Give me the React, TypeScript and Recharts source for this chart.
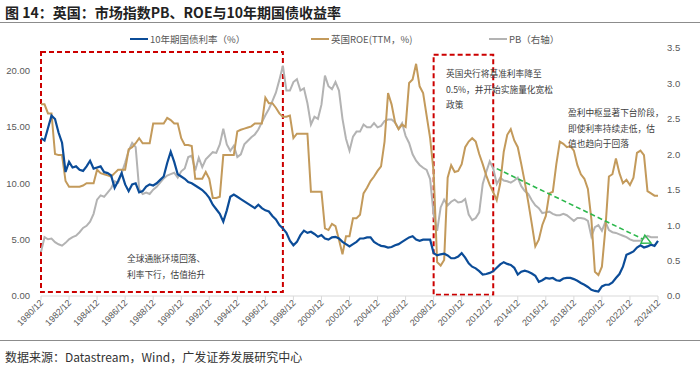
import React from "react";
import { LineChart, Line, XAxis, YAxis, ReferenceArea, ReferenceLine } from "recharts";

// quarterly, 1980/12 .. 2024/12
const months = ["03", "06", "09", "12"];
const dates: string[] = ["1980/12"];
for (let y = 1981; y <= 2024; y++) for (const m of months) dates.push(`${y}/${m}`);

// 10年期国债利率（%）
const yield10y = [
  14.0, 13.8, 14.9, 16.0, 15.7, 14.5, 13.6, 11.0,
  11.9, 11.4, 11.5, 11.2, 11.1, 11.5, 12.0, 11.3,
  11.4, 11.5, 11.0, 10.9, 10.7, 9.6, 10.2, 10.9,
  9.9, 9.3, 9.9, 10.0, 9.2, 9.3, 9.7, 9.9,
  9.8, 10.0, 10.3, 10.6, 11.8, 12.8, 11.9, 10.8,
  10.6, 10.4, 10.1, 10.0, 9.8, 9.6, 9.4, 9.1,
  8.7, 8.1, 7.7, 7.3, 6.6, 7.6, 8.8, 9.0,
  8.8, 8.6, 8.4, 8.2, 8.0, 7.8, 8.1, 7.8,
  7.6, 7.5, 7.1, 6.8, 6.3, 6.0, 5.6, 4.9,
  4.5, 4.8, 5.4, 5.8, 5.6, 5.7, 5.5, 5.25,
  5.4, 5.1, 5.0, 5.2, 5.25, 5.1, 4.8, 4.6,
  4.4, 4.6, 4.8, 5.1, 5.1, 5.2, 5.2, 4.8,
  4.6, 4.45, 4.4, 4.3, 4.35, 4.5, 4.6, 4.8,
  5.0, 5.2, 5.3, 5.0, 4.9, 5.0, 5.0, 5.0,
  3.8, 3.6, 3.7, 3.75, 3.6, 3.35, 3.35, 3.5,
  3.8, 3.4, 2.9, 2.6, 2.45, 2.2, 1.9, 1.95,
  2.05, 2.2, 2.5, 2.8, 3.0, 2.85, 2.75, 2.5,
  1.9, 2.15, 2.25, 2.15, 2.0, 1.8, 1.25, 1.4,
  1.6, 1.55, 1.6, 1.4, 1.35, 1.55, 1.6, 1.6,
  1.5, 1.35, 1.15, 1.0, 0.8, 0.55, 0.45, 0.4,
  0.85, 1.0, 1.0, 1.2, 1.6, 1.95, 2.6, 3.65,
  3.8, 3.95, 4.3, 4.5, 4.3, 4.4, 4.55, 4.45,
  4.9,
];

// 英国ROE(TTM，%)
const roe = [
  17.0, 17.0, 16.2, 16.2, 12.6, 12.5, 12.5, 10.2,
  9.7, 9.7, 9.7, 9.7, 9.8, 10.0, 10.0, 10.0,
  11.2, 10.9, 10.8, 10.7, 10.6, 10.9, 11.2, 11.2,
  11.2, 13.0, 13.2, 13.55, 14.0, 13.55, 13.55, 13.55,
  15.3, 15.3, 15.3, 15.3, 15.8, 15.6, 15.3, 15.3,
  14.0, 13.4, 13.4, 13.3, 10.4, 10.4, 10.4, 11.0,
  10.4, 8.7, 8.7, 8.8, 12.5, 12.5, 12.5, 12.5,
  14.6, 14.75, 14.85, 14.95, 15.05, 15.3, 15.3, 15.3,
  17.6, 17.1, 17.1, 16.7, 16.2, 15.9, 15.9, 16.0,
  14.0, 14.4, 14.4, 14.4, 14.4, 9.25, 9.25, 9.25,
  9.25, 6.0, 5.85, 6.4, 6.2, 5.0, 3.7, 5.3,
  5.3, 6.9, 6.9, 7.2, 9.1, 9.6, 10.2, 10.6,
  11.1, 11.5, 13.7, 18.0, 17.0, 15.4, 14.8, 15.2,
  15.0, 18.9, 19.2, 20.6, 18.6, 18.0, 16.0, 14.0,
  11.0, 3.0, 2.7, 3.2, 10.5, 11.6, 11.0, 11.1,
  11.7, 13.2, 13.7, 14.0, 13.7, 12.6, 11.7, 10.7,
  9.85, 9.2, 8.5, 10.0, 12.8, 14.3, 14.8, 13.8,
  13.2, 11.7, 10.1, 8.3, 6.4, 4.4, 5.0, 6.3,
  7.1, 9.1, 9.25, 11.7, 13.7, 13.5, 13.2, 13.3,
  12.9, 11.6, 10.8, 10.4, 9.5, 6.8, 2.15, 1.86,
  2.6, 6.0, 10.6, 10.8, 12.2, 10.9, 10.0, 10.3,
  9.85, 10.5, 12.7, 12.9, 12.5, 9.3, 9.1, 8.9,
  8.9,
];

// PB（右轴）
const pb = [
  0.62, 0.83, 0.80, 0.81, 0.76, 0.73, 0.71, 0.75,
  0.80, 0.83, 0.85, 0.90, 0.96, 0.99, 1.05, 1.16,
  1.36, 1.42, 1.40, 1.46, 1.52, 1.62, 1.60, 1.73,
  1.88, 2.05, 2.16, 2.10, 1.51, 1.44, 1.46, 1.44,
  1.50, 1.54, 1.60, 1.66, 1.70, 1.72, 1.74, 1.67,
  1.76, 1.80, 1.96, 1.98, 1.77, 1.95, 1.82, 1.93,
  1.98, 2.03, 2.02, 2.14, 2.36, 2.14, 2.05, 2.12,
  1.96, 2.00, 2.14, 2.19, 2.24, 2.28, 2.35, 2.45,
  2.55, 2.64, 2.75, 2.87, 3.05, 3.25, 2.90, 2.90,
  3.02, 3.06, 2.90, 2.93, 2.72, 2.42, 2.53, 2.50,
  2.70, 3.11, 2.96, 2.92, 3.02, 2.90, 2.50, 2.22,
  2.05, 2.25, 2.32, 2.32, 2.42, 2.38, 2.38, 2.44,
  2.38, 2.40, 2.47, 2.49, 2.49, 2.45, 2.36, 2.44,
  2.26, 2.16, 2.00, 1.91, 1.85, 1.81, 1.78, 1.65,
  1.15, 0.92, 1.25, 1.36, 1.28, 1.33, 1.36, 1.32,
  1.33, 1.37, 1.15, 1.07, 1.10, 1.18, 1.58, 1.75,
  1.90, 1.80, 1.58, 1.67, 1.63, 1.62, 1.60, 1.63,
  1.67, 1.55, 1.48, 1.44, 1.35, 1.28, 1.24, 1.17,
  1.18, 1.19, 1.16, 1.14, 1.14, 1.16, 1.14, 1.10,
  1.06, 1.10, 1.10, 1.09, 1.06, 0.84, 0.97, 1.00,
  0.92, 1.05, 0.93, 0.90, 0.89, 0.87, 0.85, 0.83,
  0.80, 0.78, 0.78, 0.78, 0.82, 0.85, 0.83, 0.83,
  0.83,
];

const leftTicks = [0, 5, 10, 15, 20];
const rightTicks = [0, 0.5, 1, 1.5, 2, 2.5, 3, 3.5];

const chartData = dates.map((date, i) => ({ date, yield10y: yield10y[i], roe: roe[i], pb: pb[i] }));

const BLUE = "#0b4c98";
const GOLD = "#c39a5b";
const GRAY = "#b3b3b3";
const RED = "#cc0000";
const GREEN = "#2db84d";
const TXT = "#595959";
const CJK = "'Noto Sans CJK SC', 'Liberation Sans', sans-serif";
const NUM = "'Liberation Sans', Arial, sans-serif";

function XTick(props: any) {
  const { x, y, payload } = props;
  return (
    <text x={x} y={y} dy={3} dx={1} transform={`rotate(-45 ${x} ${y})`} textAnchor="end"
      fontSize={9} fill={TXT} fontFamily={NUM}>
      {payload.value}
    </text>
  );
}

function Arrow(props: any) {
  const { x1, y1, x2, y2 } = props;
  const a = Math.atan2(y2 - y1, x2 - x1);
  const len = 9, half = 4.5;
  const bx = x2 - len * Math.cos(a), by = y2 - len * Math.sin(a);
  const pts = [
    [x2, y2],
    [bx + half * Math.sin(a), by - half * Math.cos(a)],
    [bx - half * Math.sin(a), by + half * Math.cos(a)],
  ].map((p) => p.join(",")).join(" ");
  return (
    <g>
      <line x1={x1} y1={y1} x2={bx} y2={by} stroke={GREEN} strokeWidth={1.6} strokeDasharray="5 3" />
      <polygon points={pts} fill="none" stroke={GREEN} strokeWidth={1.4} />
    </g>
  );
}

const legendItems = [
  { label: "10年期国债利率（%）", color: BLUE, left: 130 },
  { label: "英国ROE(TTM，%)", color: GOLD, left: 311 },
  { label: "PB（右轴）", color: GRAY, left: 489 },
];

const notes = [
  { lines: ["全球通胀环境回落、", "利率下行，估值抬升"], left: 127, top: 251 },
  { lines: ["英国央行将基准利率降至", "0.5%，并开始实施量化宽松", "政策"], left: 446, top: 66 },
  { lines: ["盈利中枢显著下台阶段，", "即使利率持续走低，估", "值也趋向于回落"], left: 568, top: 105 },
];

export default function App() {
  return (
    <div style={{ position: "absolute", left: 0, top: 0, width: 700, height: 366, background: "#fff", overflow: "hidden" }}>
      <div style={{ position: "absolute", left: 5, top: 3, fontFamily: CJK, fontWeight: 700, fontSize: 14, lineHeight: "18px", color: "#222", whiteSpace: "nowrap" }}>
        图 14：英国：市场指数PB、ROE与10年期国债收益率
      </div>
      <div style={{ position: "absolute", left: 0, top: 22, width: 700, height: 0, borderTop: "1.5px solid #8c8c8c" }} />

      {legendItems.map((it) => (
        <div key={it.label} style={{ position: "absolute", left: it.left, top: 32, height: 14, display: "flex", alignItems: "center", fontFamily: CJK, fontSize: 9.5, color: TXT, whiteSpace: "nowrap" }}>
          <span style={{ display: "inline-block", width: 18, height: 2, background: it.color, marginRight: 2 }} />
          {it.label}
        </div>
      ))}

      <div style={{ position: "absolute", left: 0, top: 0 }}>
        <LineChart width={700} height={366} data={chartData} margin={{ top: 48, right: 0, bottom: 25, left: 0 }}>
          <XAxis dataKey="date" interval={7} tick={<XTick />} height={45} tickSize={4} tickMargin={2}
            axisLine={{ stroke: "#d9d9d9" }} tickLine={{ stroke: "#d9d9d9" }} />
          <YAxis yAxisId="left" domain={[0, 22]} ticks={leftTicks} width={41} axisLine={false} tickLine={false}
            tickMargin={5} tick={{ fontSize: 9.5, fill: TXT, fontFamily: NUM }} tickFormatter={(v: number) => v.toFixed(2)} />
          <YAxis yAxisId="right" orientation="right" domain={[0, 3.5]} ticks={rightTicks} width={42} axisLine={false}
            tickLine={false} tickMargin={3} tick={{ fontSize: 9.5, fill: TXT, fontFamily: NUM }} tickFormatter={(v: number) => v.toFixed(1)} />
          <Line yAxisId="right" dataKey="pb" stroke={GRAY} strokeWidth={2} dot={false} isAnimationActive={false} />
          <Line yAxisId="left" dataKey="roe" stroke={GOLD} strokeWidth={2} dot={false} isAnimationActive={false} />
          <Line yAxisId="left" dataKey="yield10y" stroke={BLUE} strokeWidth={2.2} dot={false} isAnimationActive={false} />
          <ReferenceArea yAxisId="left" x1="1980/12" x2="1998/03" y1={0.35} y2={21.65} fill="none" fillOpacity={0}
            stroke={RED} strokeWidth={2} strokeDasharray="5 3" ifOverflow="visible" />
          <ReferenceArea yAxisId="left" x1="2008/12" x2="2013/03" y1={0.1} y2={21.4} fill="none" fillOpacity={0}
            stroke={RED} strokeWidth={2} strokeDasharray="5 3" ifOverflow="visible" />
          <ReferenceLine yAxisId="left" segment={[{ x: "2013/06", y: 11.3 }, { x: "2024/06", y: 4.7 }]}
            shape={Arrow} ifOverflow="visible" />
        </LineChart>
      </div>

      {notes.map((n, k) => (
        <div key={k} style={{ position: "absolute", left: n.left, top: n.top, fontFamily: CJK, fontSize: 8.7, lineHeight: "15.5px", color: "#404040", whiteSpace: "nowrap" }}>
          {n.lines.map((l) => <div key={l}>{l}</div>)}
        </div>
      ))}

      <div style={{ position: "absolute", left: 0, top: 340, width: 700, height: 0, borderTop: "1.5px solid #8c8c8c" }} />
      <div style={{ position: "absolute", left: 5, top: 349, fontFamily: CJK, fontSize: 12, lineHeight: "16px", color: "#333", whiteSpace: "nowrap" }}>
        数据来源：Datastream，Wind，广发证券发展研究中心
      </div>
    </div>
  );
}
